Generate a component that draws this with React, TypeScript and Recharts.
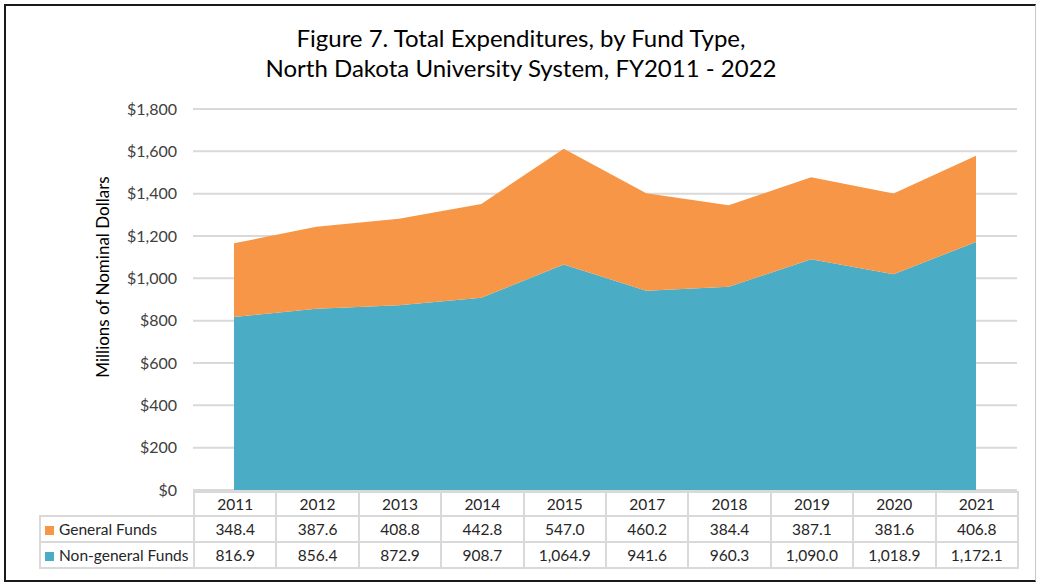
import React from "react";
import { AreaChart, Area, XAxis, YAxis, CartesianGrid } from "recharts";

const years = ["2011", "2012", "2013", "2014", "2015", "2017", "2018", "2019", "2020", "2021"];
const generalFunds = [348.4, 387.6, 408.8, 442.8, 547.0, 460.2, 384.4, 387.1, 381.6, 406.8];
const nonGeneralFunds = [816.9, 856.4, 872.9, 908.7, 1064.9, 941.6, 960.3, 1090.0, 1018.9, 1172.1];
const yTicks = [0, 200, 400, 600, 800, 1000, 1200, 1400, 1600, 1800];

const ORANGE = "#F79646";
const BLUE = "#4BACC6";
const FONT = "Lato, 'Open Sans', sans-serif";

const data = years.map((year, i) => ({
  year,
  general: generalFunds[i],
  nonGeneral: nonGeneralFunds[i],
}));

const fmt = (v: number) =>
  v.toLocaleString("en-US", { minimumFractionDigits: 1, maximumFractionDigits: 1 });

const cellBorder = "2px solid #D9D9D9";

const rows = [
  { name: "General Funds", color: ORANGE, values: generalFunds },
  { name: "Non-general Funds", color: BLUE, values: nonGeneralFunds },
];

export default function App() {
  return (
    <div
      style={{
        position: "absolute",
        left: 0,
        top: 0,
        width: 1038,
        height: 582,
        background: "#fff",
        fontFamily: FONT,
        color: "#262626",
        overflow: "hidden",
      }}
    >
      <div
        style={{
          position: "absolute",
          left: 4,
          top: 4,
          width: 1029,
          height: 574,
          borderTop: "2px solid #1a1a1a",
          borderLeft: "2px solid #1a1a1a",
          borderBottom: "2px solid #1a1a1a",
          borderRight: "1px solid #C8C8C8",
        }}
      />
      <div
        style={{
          position: "absolute",
          left: 0,
          width: 1042,
          top: 23,
          textAlign: "center",
          fontSize: 24,
          lineHeight: "30px",
          color: "#000",
        }}
      >
        Figure 7. Total Expenditures, by Fund Type,
        <br />
        North Dakota University System, FY2011 - 2022
      </div>
      <div
        style={{
          position: "absolute",
          left: 102,
          top: 277,
          transform: "translate(-50%, -50%) rotate(-90deg)",
          whiteSpace: "nowrap",
          fontSize: 17,
          color: "#000",
        }}
      >
        Millions of Nominal Dollars
      </div>
      <AreaChart
        width={1038}
        height={582}
        data={data}
        margin={{ top: 109, right: 21, bottom: 92, left: 123 }}
        style={{ position: "absolute", left: 0, top: 0 }}
      >
        <CartesianGrid vertical={false} stroke="#D9D9D9" strokeWidth={2} />
        <XAxis dataKey="year" hide padding={{ left: 41, right: 41 }} />
        <YAxis
          width={70}
          domain={[0, 1800]}
          ticks={yTicks}
          interval={0}
          axisLine={false}
          tickLine={false}
          tickSize={0}
          tickMargin={16}
          tickFormatter={(v: number) => `$${v.toLocaleString("en-US")}`}
          tick={{ fill: "#404040", fontSize: 16, fontFamily: FONT }}
        />
        <Area
          type="linear"
          dataKey="nonGeneral"
          stackId="a"
          stroke="none"
          fill={BLUE}
          fillOpacity={1}
          isAnimationActive={false}
        />
        <Area
          type="linear"
          dataKey="general"
          stackId="a"
          stroke="none"
          fill={ORANGE}
          fillOpacity={1}
          isAnimationActive={false}
        />
      </AreaChart>
      <table
        style={{
          position: "absolute",
          left: 39,
          top: 491,
          width: 978,
          borderCollapse: "collapse",
          tableLayout: "fixed",
          fontSize: 15.5,
          fontFamily: FONT,
          color: "#262626",
        }}
      >
        <colgroup>
          <col style={{ width: 154 }} />
          {years.map((y) => (
            <col key={y} style={{ width: 82.4 }} />
          ))}
        </colgroup>
        <tbody>
          <tr style={{ height: 24 }}>
            <td style={{ border: "none", padding: 0 }} />
            {years.map((y) => (
              <td key={y} style={{ border: cellBorder, textAlign: "center", padding: 0 }}>
                {y}
              </td>
            ))}
          </tr>
          {rows.map((r) => (
            <tr key={r.name} style={{ height: 26 }}>
              <td style={{ border: cellBorder, padding: "0 0 0 4px", whiteSpace: "nowrap" }}>
                <span
                  style={{
                    display: "inline-block",
                    width: 9,
                    height: 9,
                    background: r.color,
                    marginRight: 5,
                  }}
                />
                {r.name}
              </td>
              {r.values.map((v, i) => (
                <td key={i} style={{ border: cellBorder, textAlign: "center", padding: 0 }}>
                  {fmt(v)}
                </td>
              ))}
            </tr>
          ))}
        </tbody>
      </table>
    </div>
  );
}
